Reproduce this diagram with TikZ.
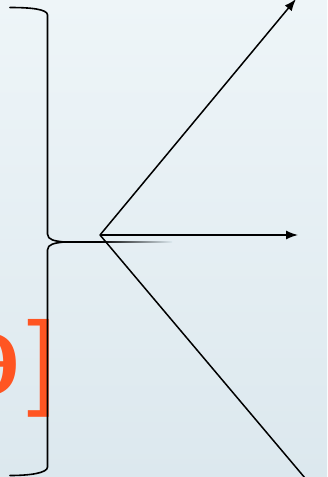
\documentclass[tikz,border=0pt]{standalone}
\usepackage{fontspec}
\setmainfont{Liberation Sans}
\usetikzlibrary{arrows.meta}
\definecolor{bgtop}{HTML}{EEF5F8}
\definecolor{bgbot}{HTML}{DCE8EE}
\definecolor{accent}{HTML}{FF5522}
\tikzset{
  conn/.style={line width=1.5pt, black},
  arr/.style={conn, -{Latex[length=12pt,width=9pt]}},
  brace/.style={line width=1.6pt, black, line cap=round},
  label/.style={text=accent, font=\fontsize{105}{105}\selectfont, inner sep=0pt}
}
\begin{document}
\begin{tikzpicture}[x=1pt,y=-1pt]
\useasboundingbox (0,0) rectangle (327,477);
\clip (0,0) rectangle (327,477);
\shade[top color=bgtop, bottom color=bgbot] (0,0) rectangle (327,477);
% text
\node[label, anchor=base east] (t) at (57,395) {\scalebox{1.3}[0.82]{θ}\kern4pt]};
% brace
\draw[brace] (10,7.5) .. controls (30,7.5) and (47.5,9) .. (47.5,15)
  -- (47.5,234) .. controls (47.5,240) and (55,241) .. (64,242);
\draw[brace] (64,242) .. controls (55,243) and (47.5,244) .. (47.5,250)
  -- (47.5,467) .. controls (47.5,473) and (30,475.5) .. (10,475.5);
\shade[left color=black, right color=black] (60,241.2) rectangle (100,242.8);
\shade[left color=black, right color=bgbot] (100,241.2) rectangle (172,242.8);
% arrows
\coordinate (o) at (100,235);
\coordinate (e1) at (296,-1);
\coordinate (e2) at (298,235);
\coordinate (e3) at (305,478);
\draw[arr] (o) -- (e1);
\draw[arr] (o) -- (e2);
\draw[conn] (o) -- (e3);
\end{tikzpicture}
\end{document}
